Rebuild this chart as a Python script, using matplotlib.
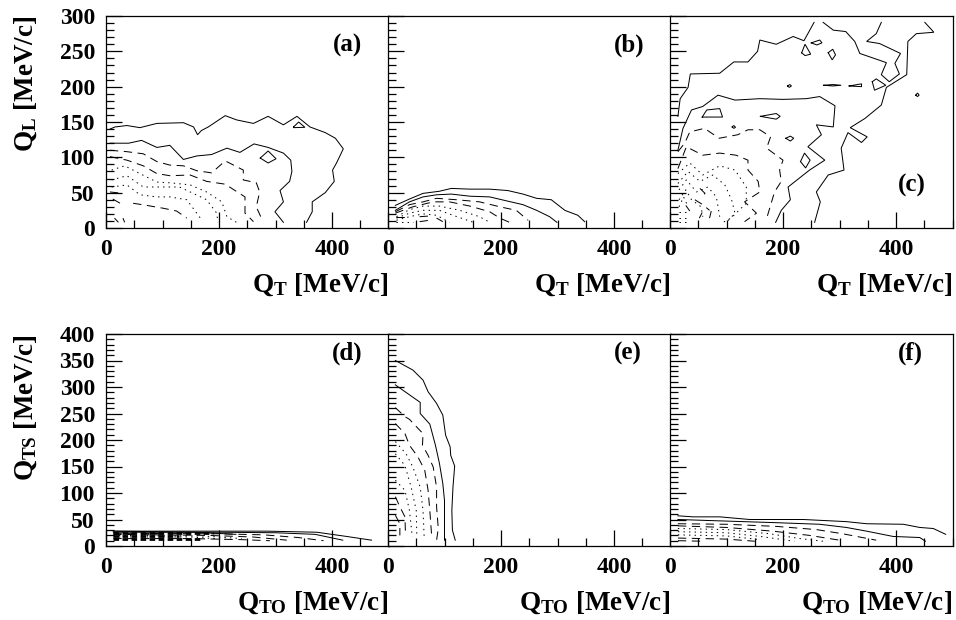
import matplotlib
matplotlib.use("Agg")
import matplotlib.pyplot as plt
from matplotlib.ticker import MultipleLocator

plt.rcParams.update({
    "font.family": "Liberation Serif", "font.weight": "bold",
    "mathtext.fontset": "custom", "mathtext.bf": "Liberation Serif:bold",
    "mathtext.rm": "Liberation Serif:bold", "mathtext.default": "bf",
    "lines.scale_dashes": False,
})

# Contours, as (Q_x, Q_y) in MeV/c
A_SOLID = [
    [(7,140),(16,143),(37,145),(60,142),(90,148),(137,149),(155,143),(162,132),(169,138),(181,143),(211,159),(231,153),(261,148),(287,158),(314,146),(338,158),(361,143),(388,135),(406,127),(420,112),(408,92),(401,82),(404,66),(388,50),(365,37),(365,23),(355,8)],
    [(7,120),(40,120),(63,124),(90,114),(113,117),(137,97),(161,102),(187,104),(214,113),(237,107),(262,119),(287,114),(314,106),(327,96),(329,80),(325,66),(308,53),(314,37),(299,23),(314,8)],
    [(273,99),(287,109),(301,98),(287,92),(273,99)],
    [(332,143),(341,150),(352,142.5),(332,142),(332,143)],
]
A_DASH = [
    [(7,110),(37,108),(66,105),(90,94),(113,89),(137,88),(161,81),(187,78),(211,95),(243,82),(243,68),(266,64),(272,51),(266,30),(275,14)],
    [(7,101),(37,96),(66,88),(90,77),(113,74),(149,75),(178,66),(211,62),(246,44),(246,21),(261,9)],
    [(48,35),(72,32),(101,28),(125,24),(143,14)],
    [(7,51),(30,49)],[(12,41),(25,35)],[(15,14),(22,8)],[(30,14),(33,8)],
]
A_DOT = [
    [(10,82),(33,88),(60,77),(90,65),(113,64),(149,61),(178,51),(205,37),(214,16),(231,8)],
    [(10,68),(37,74),(66,58),(100,58),(130,58),(149,51),(178,40),(196,21),(198,8)],
    [(10,58),(37,61),(60,47),(90,44),(113,44),(143,40),(167,14)],
]
B_SOLID = [
    [(13,32),(38,41),(62,49),(91,52),(112,56),(145,55),(180,55),(212,53),(239,48),(263,42),(289,40),(313,25),(336,18),(348,9)],
    [(13,25),(38,37),(62,44),(86,47),(112,48),(145,45),(180,44),(212,38),(239,33),(263,25),(286,16),(299,8)],
]
B_DASH = [
    [(13,23),(38,33),(62,37),(86,42),(121,40),(162,37),(198,30),(227,25),(248,11)],
    [(13,21),(44,30),(80,37),(109,37),(145,31),(180,23),(198,14),(215,8)],
    [(56,16),(74,17)],[(86,14),(97,9)],[(56,9),(74,11)],[(15,16),(30,16)],
]
B_DOT = [
    [(15,16),(38,26),(62,31),(91,31),(127,25),(162,16),(180,8)],
    [(15,14),(38,21),(62,25),(91,25),(115,18),(151,8)],
    [(15,11),(38,16),(62,20),(86,18),(109,8)],
    [(15,9),(45,9)],
]
C_SOLID = [
    [(14,158),(18,183),(32,199),(36,218),(88,219),(113,235),(138,235),(155,250),(159,266),(188,260),(218,271),(237,265),(244,275),(255,291)],
    [(271,291),(289,280),(311,278),(327,264),(336,247),(383,234),(374,217),(388,207),(406,218),(398,233),(408,247),(371,261),(348,264),(365,275),(374,291)],
    [(451,291),(467,277),(436,275),(421,264),(419,217),(383,199),(374,174),(345,155),(319,142),(349,129),(339,121),(315,135),(303,113),(308,82),(280,75),(259,51),(266,37),(256,8)],
    [(14,110),(23,141),(38,167),(58,172),(85,188),(115,181),(159,183),(200,182),(241,183),(265,186),(292,173),(289,143),(259,146),(268,132),(244,115),(274,96),(247,82),(209,58),(213,40),(197,25),(187,8)],
    [(57,157),(65,167),(88,169),(93,157),(57,157)],
    [(160,158),(188,162),(195,158),(188,154),(160,158)],
    [(233,248),(239,260),(249,246),(239,244),(233,248)],
    [(250,262),(265,266),(269,262),(260,259),(250,262)],
    [(280,248),(288,253),(293,245),(287,238),(280,248)],
    [(358,207),(365,211),(382,202),(362,195),(358,207)],
    [(272,202),(288,203),(303,202),(288,201),(272,202)],
    [(317,201),(339,204),(339,200),(317,201)],
    [(208,201),(212,203),(215,201),(211,199),(208,201)],
    [(435,188),(438,191),(441,188),(438,186),(435,188)],
    [(205,127),(213,130),(219,127),(213,123),(205,127)],
    [(231,94),(238,106),(248,96),(240,85),(231,94)],
    [(110,143),(113,145),(116,142.5),(113,141),(110,143)],
]
C_DASH = [
    [(14,108),(26,120),(35,136),(61,141),(87,127),(120,132),(138,139),(159,139),(178,129),(171,113),(200,96),(194,82),(197,66),(185,51),(172,16)],
    [(14,84),(29,115),(58,103),(88,106),(117,103),(138,96),(138,82),(156,66),(159,51),(132,37),(153,21),(132,9)],
    [(53,56),(62,49),(56,44)],
    [(44,40),(58,33),(70,25)],
    [(28,32),(35,24)],[(52,14),(57,22)],[(70,14),(73,24)],
]
C_DOT = [
    [(14,77),(35,92),(58,75),(88,88),(115,82),(135,58),(135,35),(108,14),(94,8)],
    [(14,63),(32,80),(53,66),(76,75),(97,61),(109,40),(115,21),(100,8)],
    [(16,54),(29,68),(47,51),(67,58),(82,44),(88,16)],
    [(16,40),(28,54),(38,40),(55,30),(58,16)],
    [(16,30),(24,44),(32,30)],
    [(16,22),(32,22)],[(16,14),(32,14)],[(16,9),(32,9)],
]
D_SOLID = [
    [(13,28),(166,28),(285,28),(373,26),(426,18),(470,11)],
    [(13,26),(200,26),(300,25),(370,22),(419,11)],
    [(13,28),(160,26),(230,22)],
]
D_DASH = [
    [(13,24),(200,23),(280,21),(340,16),(385,10)],
    [(13,22),(180,20),(260,17),(320,11)],
    [(13,14),(150,14),(240,12),(290,10)],
]
D_DOT = [
    [(13,20),(170,19),(240,14)],
    [(13,17),(150,17),(220,12)],
]
D_HEAVY = [
    [(13,24),(190,24)],[(13,14),(170,14)],[(13,19),(130,19)],
]
E_SOLID = [
    [(13,350),(44,332),(62,313),(71,291),(86,269),(97,247),(102,209),(110,187),(111,171),(118,151),(115,111),(113,67),(114,30),(119,11)],
    [(13,304),(57,271),(57,250),(74,230),(84,190),(91,156),(97,118),(100,86),(100,11)],
]
E_DASH = [
    [(13,261),(30,244),(38,239),(53,222),(62,212),(61,190),(71,171),(80,149),(86,111),(86,74),(89,33),(86,11)],
    [(13,231),(30,212),(38,190),(53,168),(65,143),(71,105),(74,67),(77,23)],
    [(13,93),(21,74),(30,55),(31,20)],
    [(13,58),(21,42),(21,20)],
]
E_DOT = [
    [(13,197),(32,174),(44,149),(57,111),(62,67),(64,17)],
    [(13,174),(30,152),(41,111),(50,67),(51,20)],
    [(13,124),(30,105),(38,67),(43,17)],
]
F_SOLID = [
    [(14,57),(41,55),(88,55),(141,50),(236,50),(312,46),(348,42),(413,41),(442,35),(466,33),(488,22)],
    [(14,50),(100,47),(188,44),(265,41),(312,35),(348,28),(395,18),(442,16),(452,9)],
]
F_DASH = [
    [(14,42),(100,41),(188,37),(259,31),(306,23),(365,11)],
    [(14,38),(100,35),(182,28),(247,20),(300,11)],
    [(14,15),(100,13),(150,9)],
    [(14,10),(60,9)],
]
F_DOT = [
    [(14,33),(100,31),(177,23),(230,14),(271,9)],
    [(14,27),(100,25),(160,18),(220,9)],
    [(14,21),(100,19),(160,12)],
]

TAGS = ["(a)", "(b)", "(c)", "(d)", "(e)", "(f)"]
TAG_POS = [(0.855, 0.862), (0.855, 0.862), (0.855, 0.2), (0.855, 0.91), (0.85, 0.91), (0.85, 0.91)]
XLABELS = [r"$\mathbf{Q_{T}}$ [MeV/c]"] * 3 + [r"$\mathbf{Q_{TO}}$ [MeV/c]"] * 3
YLABELS = [r"$\mathbf{Q_{L}}$ [MeV/c]", r"$\mathbf{Q_{TS}}$ [MeV/c]"]
YMAX = [300, 400]
PANELS = [(A_SOLID, A_DASH, A_DOT), (B_SOLID, B_DASH, B_DOT), (C_SOLID, C_DASH, C_DOT),
          (D_SOLID, D_DASH, D_DOT), (E_SOLID, E_DASH, E_DOT), (F_SOLID, F_DASH, F_DOT)]

W, H = 956, 620
LEFTS = [106, 388, 670]
AW = 282.5
TOPS = [16, 334]
BOTTOMS = [228, 546]

fig = plt.figure(figsize=(W / 100, H / 100), dpi=100, facecolor="white")
STYLES = {0: "-", 1: (0, (6, 4)), 2: (0, (1, 3))}

for i in range(6):
    row, col = divmod(i, 3)
    ax = fig.add_axes([LEFTS[col] / W, 1 - BOTTOMS[row] / H, AW / W, (BOTTOMS[row] - TOPS[row]) / H])
    for kind, lines in enumerate(PANELS[i]):
        for pts in lines:
            ax.plot([p[0] for p in pts], [p[1] for p in pts], color="black", lw=0.72,
                    ls=STYLES[kind], solid_joinstyle="miter", dash_capstyle="butt")
    if i == 3:
        for pts in D_HEAVY:
            ax.plot([p[0] for p in pts], [p[1] for p in pts], color="black", lw=2.0,
                    ls=(0, (4, 2.5)), dash_capstyle="butt")
    ax.set_xlim(0, 500)
    ax.set_ylim(0, YMAX[row])
    ax.xaxis.set_major_locator(MultipleLocator(200))
    ax.xaxis.set_minor_locator(MultipleLocator(50))
    ax.yaxis.set_major_locator(MultipleLocator(50))
    ax.yaxis.set_minor_locator(MultipleLocator(10))
    ax.tick_params(which="major", direction="in", length=11.5, width=0.9, labelsize=17)
    ax.tick_params(which="minor", direction="in", length=5.8, width=0.9)
    ax.tick_params(axis="x", which="major", pad=8)
    ax.tick_params(axis="y", which="major", labelleft=(col == 0), pad=8)
    for lab in ax.get_xticklabels() + ax.get_yticklabels():
        lab.set_fontweight("bold")
    for s in ax.spines.values():
        s.set_linewidth(0.9)
    ax.set_xlabel(XLABELS[i], fontsize=19.5, fontweight="bold", loc="right", labelpad=8.5)
    if col == 0:
        ax.set_ylabel(YLABELS[row], fontsize=19.5, fontweight="bold", loc="top")
        ax.yaxis.set_label_coords(-0.238, 1.0)
    ax.text(TAG_POS[i][0], TAG_POS[i][1], TAGS[i], transform=ax.transAxes, ha="center", va="center",
            fontsize=18, fontweight="bold")

fig.savefig("out.png", dpi=100, facecolor="white")
